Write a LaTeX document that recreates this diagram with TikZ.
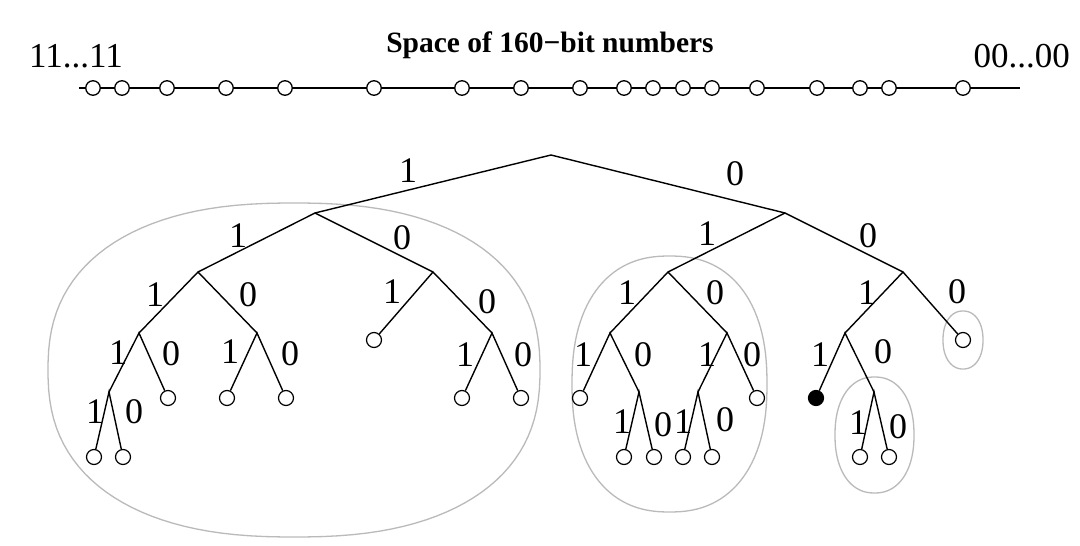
\documentclass[tikz,border=0pt]{standalone}
\usepackage{fontspec}
\setmainfont{Liberation Serif}
\newcommand{\superell}[5]{%
  \draw[encl] plot[domain=1.5:361.5, samples=121, variable=\t]
    ({#1+#3*cos(\t)*pow(abs(cos(\t)),#5)}, {#2+#4*sin(\t)*pow(abs(sin(\t)),#5)}) -- cycle;}
\begin{document}
\begin{tikzpicture}[x=1pt,y=-1pt,
  edge/.style={line width=1.4pt, black},
  leaf/.style={circle, draw, line width=1.2pt, fill=white, minimum size=15pt, inner sep=0pt},
  bleaf/.style={leaf, fill=black},
  tdot/.style={circle, draw, line width=1.3pt, fill=white, minimum size=14.5pt, inner sep=0pt},
  lbl/.style={font=\fontsize{36}{36}\selectfont, inner sep=0pt},
  big/.style={font=\fontsize{35}{35}\selectfont, inner sep=0pt},
  encl/.style={draw=black!27, line width=1.3pt}]
\useasboundingbox[fill=white] (0,0) rectangle (1080,546);

% header
\node[font=\bfseries\fontsize{29.5}{29.5}\selectfont, inner sep=0pt, anchor=base] (title) at (550,52) {Space of 160−bit numbers};
\node[big, anchor=base west] (hi) at (29,67) {11...11};
\node[big, anchor=base east] (lo) at (1070,67) {00...00};

% number line
\coordinate (ls) at (79,88);
\coordinate (le) at (1020,88);
\draw[line width=2.6pt] (ls) -- (le);
\foreach[count=\i] \x in {93,122,167,226,285,374,462,521,580,624,653,683,712,757,817,860,889,963}
  \node[tdot] (t\i) at (\x,88) {};

% enclosures
\superell{294}{370}{246}{167}{-0.16}
\superell{669.5}{384}{97.5}{128}{-0.14}
\superell{963}{340}{20}{29}{-0.08}
\superell{874.5}{435}{39.5}{58}{-0.1}

% internal nodes
\coordinate (root) at (551,155);
\coordinate (L) at (315,213);
\coordinate (R) at (785,213);
\coordinate (A) at (198,272);
\coordinate (B) at (433,272);
\coordinate (C) at (668,272);
\coordinate (D) at (903,272);
\coordinate (A1) at (139,333);
\coordinate (A0) at (257,333);
\coordinate (B0) at (492,333);
\coordinate (C1) at (610,333);
\coordinate (C0) at (727,333);
\coordinate (D1) at (845,333);
\coordinate (A11) at (109,392);
\coordinate (C10) at (639,392);
\coordinate (C01) at (698,392);
\coordinate (D10) at (874,392);

% leaves
\node[leaf] (lB1) at (374,340) {};
\node[leaf] (lD0) at (963,340) {};
\node[leaf] (lA10) at (168,398) {};
\node[leaf] (lA01) at (227,398) {};
\node[leaf] (lA00) at (286,398) {};
\node[leaf] (lB01) at (462,398) {};
\node[leaf] (lB00) at (521,398) {};
\node[leaf] (lC11) at (580,398) {};
\node[leaf] (lC00) at (757,398) {};
\node[bleaf] (dot) at (816,398) {};
\node[leaf] (l1) at (94,457) {};
\node[leaf] (l2) at (123,457) {};
\node[leaf] (l3) at (624,457) {};
\node[leaf] (l4) at (654,457) {};
\node[leaf] (l5) at (683,457) {};
\node[leaf] (l6) at (712,457) {};
\node[leaf] (l7) at (860,457) {};
\node[leaf] (l8) at (889,457) {};

% edges
\draw[edge] (L) -- (root) -- (R);
\draw[edge] (A) -- (L) -- (B);
\draw[edge] (A1) -- (A) -- (A0);
\draw[edge] (A11) -- (A1) -- (lA10);
\draw[edge] (l1) -- (A11) -- (l2);
\draw[edge] (lA01) -- (A0) -- (lA00);
\draw[edge] (lB1) -- (B) -- (B0);
\draw[edge] (lB01) -- (B0) -- (lB00);
\draw[edge] (C) -- (R) -- (D);
\draw[edge] (C1) -- (C) -- (C0);
\draw[edge] (lC11) -- (C1) -- (C10);
\draw[edge] (l3) -- (C10) -- (l4);
\draw[edge] (C01) -- (C0) -- (lC00);
\draw[edge] (l5) -- (C01) -- (l6);
\draw[edge] (D1) -- (D) -- (lD0);
\draw[edge] (dot) -- (D1) -- (D10);
\draw[edge] (l7) -- (D10) -- (l8);

% labels
\node[lbl] (e1) at (408,171) {1};
\node[lbl] (e2) at (735,174) {0};
\node[lbl] (e3) at (238,236) {1};
\node[lbl] (e4) at (402,238) {0};
\node[lbl] (e5) at (155,295) {1};
\node[lbl] (e6) at (248,295) {0};
\node[lbl] (e7) at (392,292) {1};
\node[lbl] (e8) at (487,302) {0};
\node[lbl] (e9) at (118,353) {1};
\node[lbl] (e10) at (171,354) {0};
\node[lbl] (e11) at (230,352) {1};
\node[lbl] (e12) at (290,354) {0};
\node[lbl] (e13) at (465,355) {1};
\node[lbl] (e14) at (523,355) {0};
\node[lbl] (e15) at (95,412) {1};
\node[lbl] (e16) at (134,412) {0};
\node[lbl] (e17) at (707,234) {1};
\node[lbl] (e18) at (868,236) {0};
\node[lbl] (e19) at (627,293) {1};
\node[lbl] (e20) at (715,293) {0};
\node[lbl] (e21) at (867,293) {1};
\node[lbl] (e22) at (957,292) {0};
\node[lbl] (e23) at (583,355) {1};
\node[lbl] (e24) at (643,355) {0};
\node[lbl] (e25) at (707,355) {1};
\node[lbl] (e26) at (752,355) {0};
\node[lbl] (e27) at (820,355) {1};
\node[lbl] (e28) at (883,352) {0};
\node[lbl] (e29) at (622,422) {1};
\node[lbl] (e30) at (663,425) {0};
\node[lbl] (e31) at (683,422) {1};
\node[lbl] (e32) at (725,420) {0};
\node[lbl] (e33) at (858,423) {1};
\node[lbl] (e34) at (898,427) {0};
\end{tikzpicture}
\end{document}
